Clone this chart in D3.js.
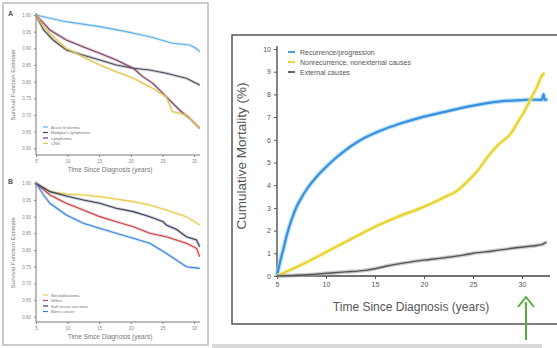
<!DOCTYPE html>
<html>
<head>
<meta charset="utf-8">
<script src="https://cdn.jsdelivr.net/npm/d3@7"></script>
<style>
  body { margin: 0; background: #fff; }
  svg { display: block; font-family: "Liberation Sans", Arial, sans-serif; }
</style>
</head>
<body>
<svg id="chart" width="557" height="348"></svg>
<script>
// ---- data ----
const xTicks = [5, 10, 15, 20, 25, 30];
const survTicks = [1.00, 0.95, 0.90, 0.85, 0.80, 0.75, 0.70, 0.65, 0.60];
const mortTicks = [0, 1, 2, 3, 4, 5, 6, 7, 8, 9, 10];

// panel A (survival by diagnosis group)
const aNames = ['Acute leukemia', "Hodgkin's lymphoma", 'Lymphoma', 'CNS'];
const aBlue = [[5, 1], [7.2, 0.99], [9.8, 0.98], [15.1, 0.965], [19.3, 0.95], [23, 0.935], [26.6, 0.915], [29.3, 0.91], [30.3, 0.9], [30.9, 0.89]];
const aDark = [[5, 1], [6.2, 0.955], [7.7, 0.925], [9.8, 0.895], [12.4, 0.88], [15.1, 0.865], [17.7, 0.85], [20.4, 0.84], [23, 0.835], [25.6, 0.825], [28.8, 0.81], [30.9, 0.79]];
const aPurple = [[5, 1], [7.2, 0.955], [9.8, 0.925], [12.4, 0.905], [15.1, 0.885], [17.7, 0.865], [20.4, 0.84], [21.9, 0.815], [23.5, 0.795], [25.6, 0.755], [27.7, 0.715], [29.3, 0.69], [30.9, 0.66]];
const aYellow = [[5, 1], [6.2, 0.965], [7.7, 0.935], [9.8, 0.9], [12.4, 0.875], [15.1, 0.85], [17.7, 0.83], [20.4, 0.81], [23, 0.785], [25.6, 0.755], [26.6, 0.71], [28.8, 0.7], [30.9, 0.66]];

// panel B (survival by second group)
const bNames = ['Neuroblastoma', 'Wilms', 'Soft tissue sarcoma', 'Bone cancer'];
const bYellow = [[5, 1], [7.2, 0.975], [9.8, 0.968], [12.5, 0.965], [15.1, 0.96], [20.4, 0.945], [23, 0.935], [25.6, 0.92], [28.8, 0.9], [30.9, 0.875]];
const bRed = [[5, 1], [7.2, 0.965], [9.8, 0.94], [12.5, 0.92], [15.1, 0.9], [17.7, 0.885], [20.4, 0.87], [23, 0.85], [25.6, 0.84], [28.8, 0.82], [30.4, 0.805], [30.9, 0.78]];
const bNavy = [[5, 1], [7.2, 0.975], [9.8, 0.962], [12.5, 0.95], [15.1, 0.94], [17.7, 0.925], [20.4, 0.915], [23, 0.9], [25.1, 0.885], [25.6, 0.875], [27.2, 0.862], [28.8, 0.84], [30.4, 0.83], [30.9, 0.81]];
const bBlue = [[5, 1], [6.2, 0.965], [7.2, 0.94], [9.8, 0.905], [12.5, 0.88], [15.1, 0.865], [17.7, 0.85], [20.4, 0.835], [23, 0.82], [25.6, 0.79], [28.8, 0.75], [30.9, 0.745]];

// main panel (cumulative mortality, %)
const mainNames = ['Recurrence/progression', 'Nonrecurrence, nonexternal causes', 'External causes'];
const recurrence = [[5, 0], [5.3, 0.6], [5.6, 1.1], [6, 1.8], [6.5, 2.5], [7, 3.05], [7.5, 3.45], [8, 3.8], [9, 4.35], [10, 4.8], [11, 5.2], [12, 5.55], [13, 5.85], [14, 6.1], [15, 6.3], [16, 6.48], [17, 6.63], [18, 6.77], [20, 7.02], [22, 7.22], [24, 7.42], [26, 7.58], [28, 7.7], [30, 7.75], [31, 7.77], [32, 7.76], [32.2, 8.0], [32.3, 7.76], [32.6, 7.78]];
const nonrecurrence = [[5, 0], [6, 0.2], [8, 0.6], [10, 1.05], [12, 1.5], [14, 1.95], [15, 2.17], [17, 2.55], [20, 3.05], [22, 3.45], [23.5, 3.8], [24.5, 4.2], [25.5, 4.65], [26.5, 5.25], [27.5, 5.75], [28.9, 6.3], [29.6, 6.8], [30.3, 7.3], [31, 7.9], [31.5, 8.3], [32, 8.8], [32.3, 8.95]];
const external = [[5, 0], [7, 0.03], [9, 0.08], [10, 0.12], [12, 0.18], [14, 0.25], [15, 0.32], [16, 0.42], [18, 0.58], [20, 0.7], [22, 0.8], [24, 0.92], [25, 1.0], [27, 1.1], [29, 1.22], [31, 1.32], [32, 1.38], [32.3, 1.45], [32.5, 1.5]];

const svg = d3.select('#chart');

// ---- small survival panels on the left ----
svg.append('rect')
  .attr('x', 3).attr('y', 3).attr('width', 205).attr('height', 342)
  .attr('fill', 'none').attr('stroke', '#bbb').attr('stroke-width', 1.5);

function smallPanel(opts) {
  const x = d3.scaleLinear().domain([5, 30]).range([36, 194]);
  const y = d3.scaleLinear().domain([0.60, 1.00]).range([opts.bottom, opts.top]);
  const g = svg.append('g');

  g.append('text').attr('x', opts.letterX).attr('y', opts.top + 1)
    .attr('font-size', 7).attr('font-weight', 'bold').attr('fill', '#555')
    .text(opts.letter);

  const xAxis = g.append('g')
    .attr('transform', 'translate(0,' + opts.axisY + ')')
    .call(d3.axisBottom(x).tickValues(xTicks).tickSize(2).tickFormat(d3.format('d')));
  xAxis.select('.domain').attr('d', 'M36,0H200');

  const yAxis = g.append('g')
    .attr('transform', 'translate(36,0)')
    .call(d3.axisLeft(y).tickValues(survTicks).tickSize(2).tickFormat(d3.format('.2f')));
  yAxis.select('.domain').attr('d', 'M0,' + (opts.top - 2) + 'V' + opts.axisY);

  g.selectAll('.tick text').attr('font-size', 4.5).attr('fill', '#888');
  g.selectAll('.tick line').attr('stroke', '#888');
  g.selectAll('.domain').attr('stroke', '#777').attr('stroke-width', 1);

  g.append('text')
    .attr('transform', 'translate(15,' + ((opts.top + opts.axisY) / 2) + ') rotate(-90)')
    .attr('text-anchor', 'middle').attr('font-size', 6).attr('fill', '#777')
    .text('Survival Function Estimate');
  g.append('text')
    .attr('x', 110).attr('y', opts.axisY + 17)
    .attr('text-anchor', 'middle').attr('font-size', 6.5).attr('fill', '#777')
    .text('Time Since Diagnosis (years)');

  const line = d3.line().x(d => x(d[0])).y(d => y(d[1]));
  opts.series.forEach(s => {
    g.append('path').datum(s.data)
      .attr('fill', 'none').attr('stroke', s.color).attr('stroke-opacity', 0.25)
      .attr('stroke-width', 3).attr('d', line);
    g.append('path').datum(s.data)
      .attr('fill', 'none').attr('stroke', s.color)
      .attr('stroke-width', 1.1).attr('d', line);
  });

  opts.series.forEach((s, i) => {
    const ly = opts.legendY + i * 5.5;
    g.append('line').attr('x1', 43).attr('x2', 48).attr('y1', ly).attr('y2', ly)
      .attr('stroke', s.color).attr('stroke-width', 1.2);
    g.append('text').attr('x', 51).attr('y', ly + 1.5)
      .attr('font-size', 4.2).attr('fill', '#777').text(s.name);
  });
}

smallPanel({
  letter: 'A', letterX: 8, top: 15, bottom: 148.3, axisY: 155, legendY: 127,
  series: [
    { name: aNames[0], data: aBlue, color: '#5fb0e8' },
    { name: aNames[1], data: aDark, color: '#4a4a5a' },
    { name: aNames[2], data: aPurple, color: '#7a3f6a' },
    { name: aNames[3], data: aYellow, color: '#e0c24a' }
  ]
});

smallPanel({
  letter: 'B', letterX: 8, top: 183.3, bottom: 316.7, axisY: 322, legendY: 295,
  series: [
    { name: bNames[0], data: bYellow, color: '#e2cf50' },
    { name: bNames[1], data: bRed, color: '#c8434a' },
    { name: bNames[2], data: bNavy, color: '#3a3f5c' },
    { name: bNames[3], data: bBlue, color: '#3d84d6' }
  ]
});

// ---- main cumulative mortality panel ----
svg.append('rect')
  .attr('x', 232).attr('y', 35).attr('width', 330).attr('height', 289)
  .attr('fill', 'none').attr('stroke', '#555').attr('stroke-width', 1.5);

const x = d3.scaleLinear().domain([5, 30]).range([277, 522]);
const y = d3.scaleLinear().domain([0, 10]).range([276, 49]);
const main = svg.append('g');

const mx = main.append('g')
  .attr('transform', 'translate(0,276)')
  .call(d3.axisBottom(x).tickValues(xTicks).tickSize(3).tickFormat(d3.format('d')));
mx.select('.domain').attr('d', 'M277,0H550');

const my = main.append('g')
  .attr('transform', 'translate(277,0)')
  .call(d3.axisLeft(y).tickValues(mortTicks).tickSize(3));
my.select('.domain').attr('d', 'M0,46V276');

main.selectAll('.tick text').attr('font-size', 7).attr('fill', '#555');
main.selectAll('.tick line').attr('stroke', '#555');
main.selectAll('.domain').attr('stroke', '#444').attr('stroke-width', 1.3);

main.append('text')
  .attr('transform', 'translate(246,156) rotate(-90)')
  .attr('text-anchor', 'middle').attr('font-size', 13.5).attr('fill', '#555')
  .text('Cumulative Mortality (%)');
main.append('text')
  .attr('x', 411).attr('y', 311)
  .attr('text-anchor', 'middle').attr('font-size', 12).attr('fill', '#555')
  .text('Time Since Diagnosis (years)');

const mline = d3.line().curve(d3.curveMonotoneX).x(d => x(d[0])).y(d => y(d[1]));
const mainSeries = [
  { name: mainNames[0], data: recurrence, color: '#3a8fdc', halo: '#8fd0f5', w: 2.2 },
  { name: mainNames[1], data: nonrecurrence, color: '#e6d22c', halo: '#f3ea8a', w: 2 },
  { name: mainNames[2], data: external, color: '#555', halo: '#aaa', w: 1.4 }
];
mainSeries.forEach(s => {
  main.append('path').datum(s.data)
    .attr('fill', 'none').attr('stroke', s.halo).attr('stroke-opacity', 0.6)
    .attr('stroke-width', s.w + 2.5).attr('d', mline);
  main.append('path').datum(s.data)
    .attr('fill', 'none').attr('stroke', s.color)
    .attr('stroke-width', s.w).attr('d', mline);
});

mainSeries.forEach((s, i) => {
  const ly = 52 + i * 10;
  main.append('line').attr('x1', 288).attr('x2', 295).attr('y1', ly).attr('y2', ly)
    .attr('stroke', s.color).attr('stroke-width', 1.8);
  main.append('text').attr('x', 300).attr('y', ly + 2.5)
    .attr('font-size', 7).attr('fill', '#555').text(s.name);
});

// ---- grey strip and green arrow ----
svg.append('rect').attr('x', 212).attr('y', 344).attr('width', 330).attr('height', 4)
  .attr('fill', '#d9d9d9');
svg.append('line').attr('x1', 526).attr('x2', 526).attr('y1', 302).attr('y2', 340)
  .attr('stroke', '#5aab3e').attr('stroke-width', 2);
svg.append('path').attr('d', 'M518,307L526,297L534,307')
  .attr('fill', 'none').attr('stroke', '#5aab3e').attr('stroke-width', 2);
</script>
</body>
</html>
